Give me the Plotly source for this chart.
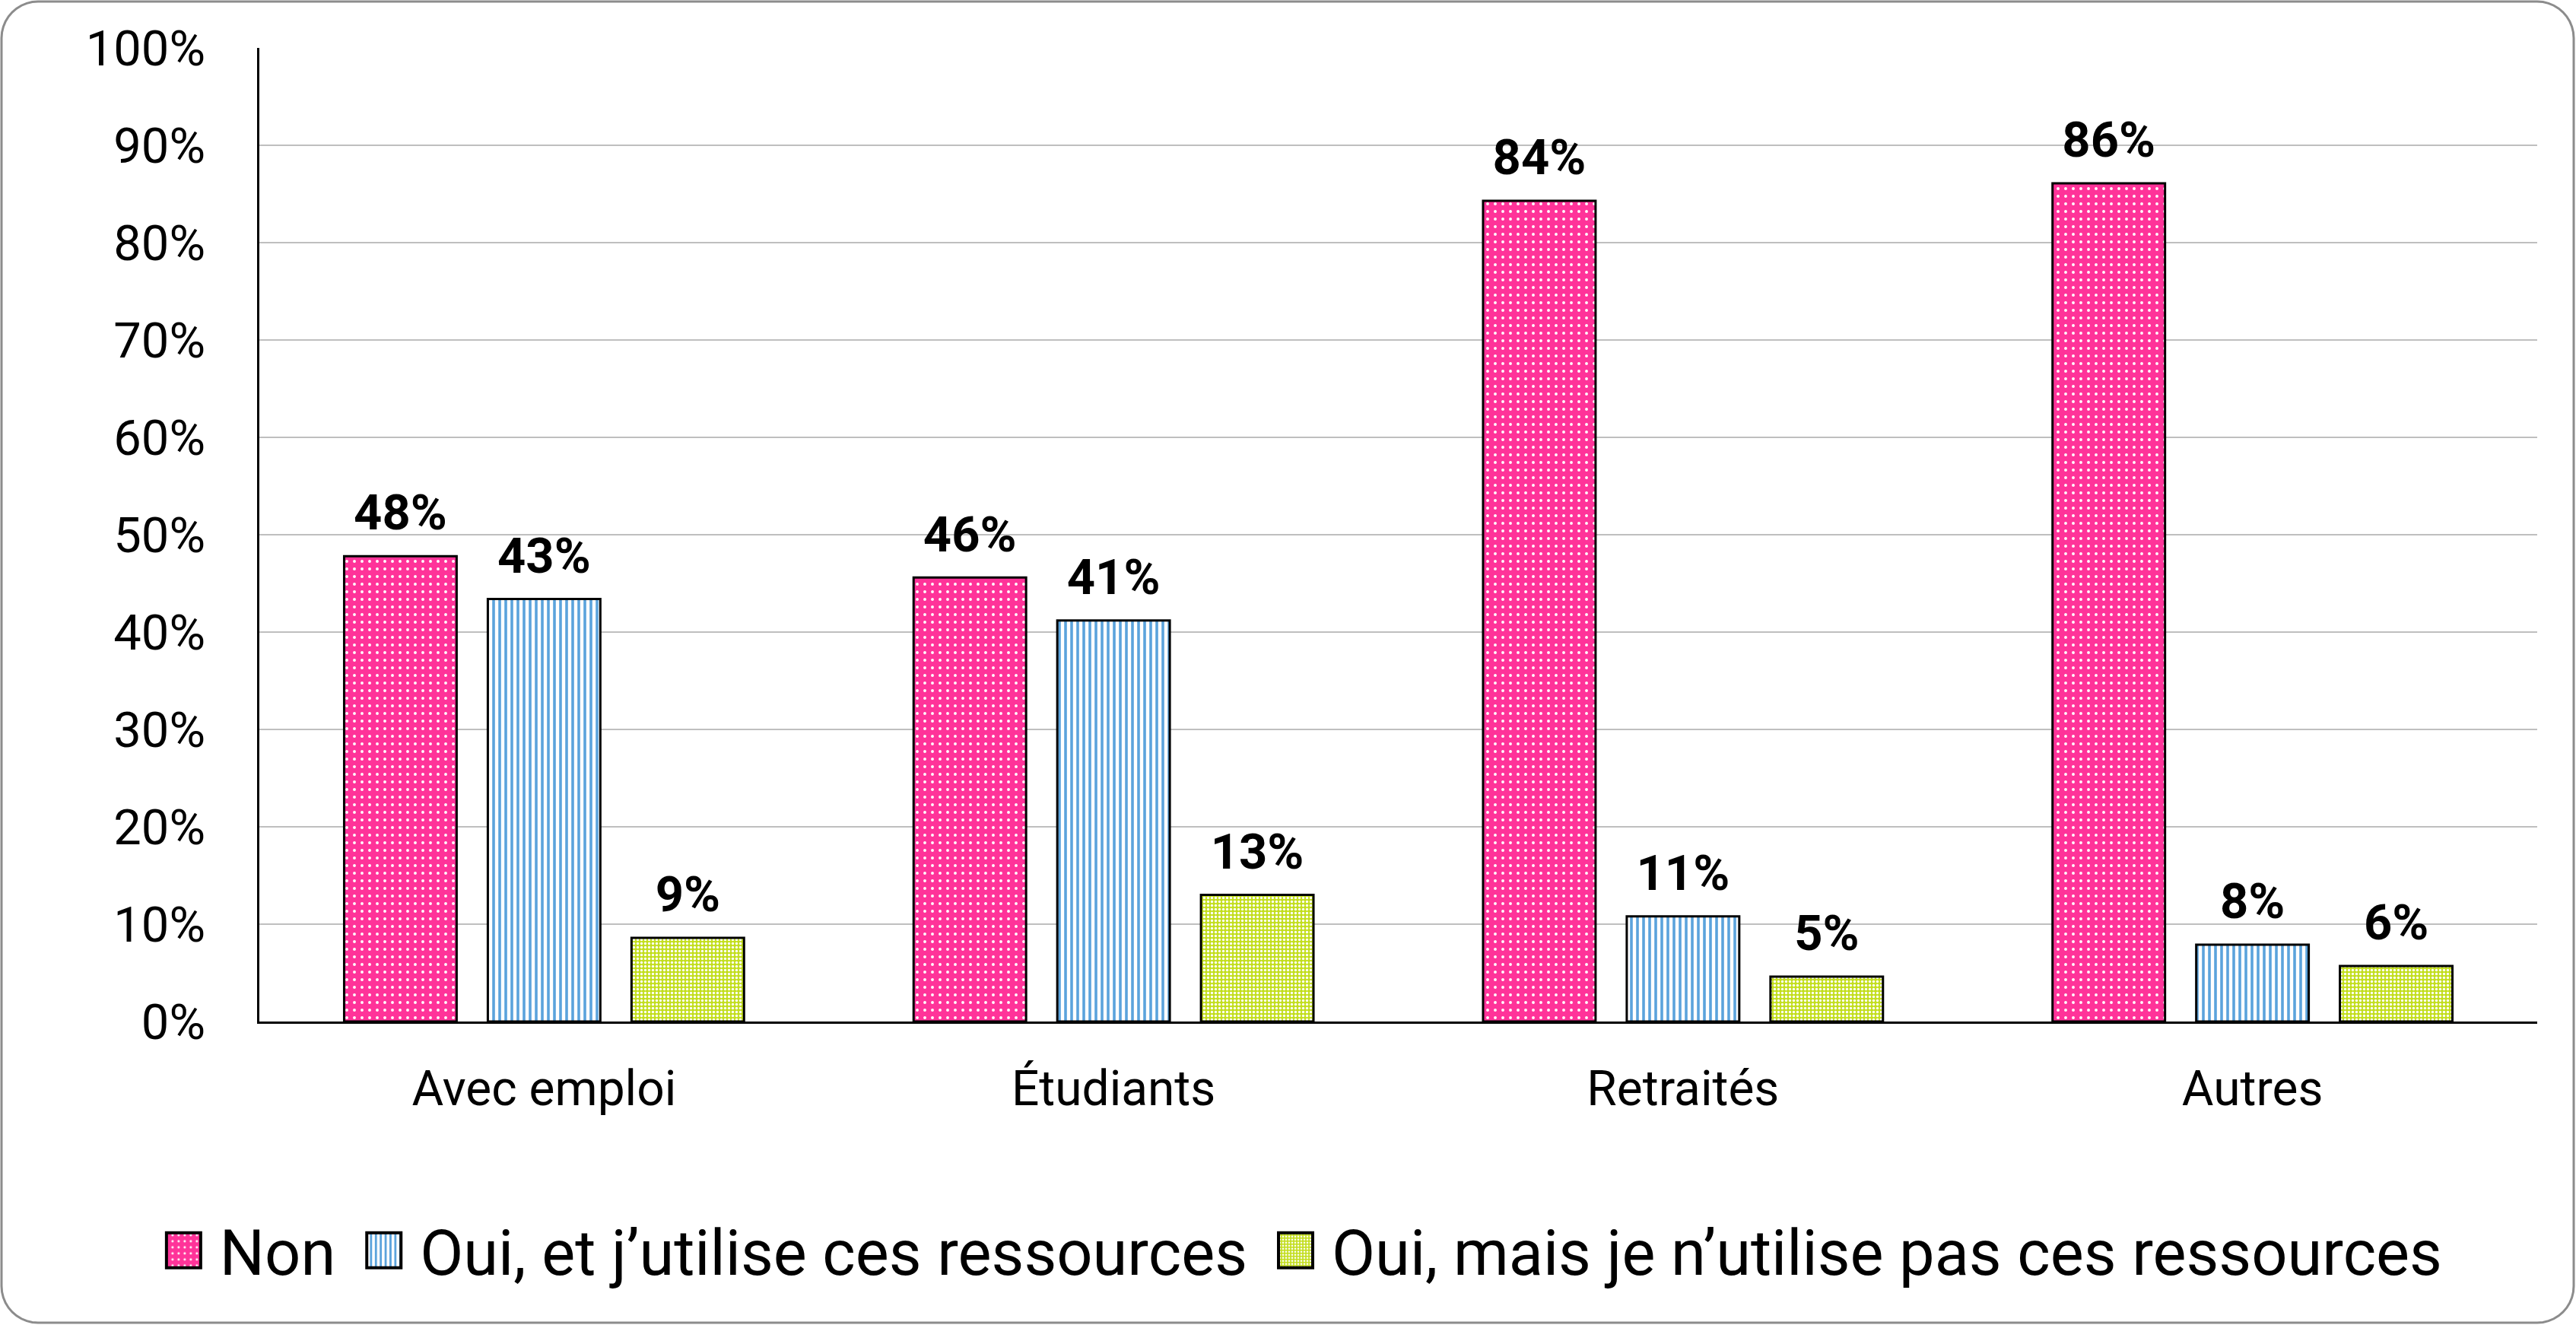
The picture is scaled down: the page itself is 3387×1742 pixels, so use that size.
import math
import plotly.graph_objects as go

categories = ["Avec emploi", "Étudiants", "Retraités", "Autres"]
series_names = ["Non", "Oui, et j’utilise ces ressources", "Oui, mais je n’utilise pas ces ressources"]
non = [0.478, 0.456, 0.843, 0.861]
oui_utilise = [0.434, 0.412, 0.108, 0.079]
oui_pas = [0.086, 0.130, 0.046, 0.057]
y_ticks = [0, 0.1, 0.2, 0.3, 0.4, 0.5, 0.6, 0.7, 0.8, 0.9, 1.0]
y_labels = ["0%", "10%", "20%", "30%", "40%", "50%", "60%", "70%", "80%", "90%", "100%"]

W, H = 3387, 1742
L, R, T, B = 341, 51, 63, 399
GAP = 0.243

styles = [
    dict(shape=".", fgcolor="white", bgcolor="#FF3399", size=10, solidity=0.12),
    dict(shape="|", fgcolor="#5BA3DC", bgcolor="white", size=8, solidity=0.45),
    dict(shape=".", fgcolor="white", bgcolor="#C3DE1E", size=5, solidity=0.35),
]

fig = go.Figure()
for name, vals, pat in zip(series_names, [non, oui_utilise, oui_pas], styles):
    fig.add_trace(go.Bar(
        x=categories, y=vals, name=name,
        marker=dict(color=pat["bgcolor"], line=dict(color="black", width=3),
                    pattern=dict(shape=pat["shape"], fgcolor=pat["fgcolor"], bgcolor=pat["bgcolor"],
                                 size=pat["size"], solidity=pat["solidity"], fillmode="replace")),
    ))

# value labels: grouped scatter text so they sit over their bars with a bit of room
for name, vals in zip(series_names, [non, oui_utilise, oui_pas]):
    fig.add_trace(go.Scatter(
        x=categories, y=vals, mode="markers+text", showlegend=False, hoverinfo="skip",
        marker=dict(size=28, opacity=0), texttemplate="<b>%{y:.0%}</b>", textposition="top center",
        textfont=dict(family="Roboto", size=65, color="black"), cliponaxis=False,
    ))

# rounded border round the whole picture, in paper coordinates
def px2paper(px, py):
    return (px - L) / (W - L - R), (H - B - py) / (H - T - B)

def rounded_rect(x0, y0, x1, y1, r):
    pts = []
    corners = [(x1 - r, y0 + r, -90), (x1 - r, y1 - r, 0), (x0 + r, y1 - r, 90), (x0 + r, y0 + r, 180)]
    for cx, cy, a0 in corners:
        for k in range(0, 11):
            a = math.radians(a0 + 9 * k)
            pts.append(px2paper(cx + r * math.cos(a), cy + r * math.sin(a)))
    return "M " + " L ".join(f"{x:.5f},{y:.5f}" for x, y in pts) + " Z"

fig.add_shape(type="path", xref="paper", yref="paper", path=rounded_rect(2, 2, W - 3, H - 3, 48),
              line=dict(color="#8C8C8C", width=3), layer="below")

fig.update_layout(
    width=W, height=H,
    margin=dict(l=L, r=R, t=T, b=B),
    paper_bgcolor="white", plot_bgcolor="white",
    barmode="group", bargap=GAP, bargroupgap=0.217,
    scattermode="group", scattergap=GAP,
    font=dict(family="Roboto", color="black", size=65),
    legend=dict(orientation="h", x=-0.0528, xanchor="left", y=-0.235, yanchor="middle",
                font=dict(size=83, family="Roboto"), itemwidth=96),
    xaxis=dict(showline=True, linecolor="black", linewidth=3, ticks="",
               tickfont=dict(size=64), ticklabelstandoff=30),
    yaxis=dict(range=[0, 1], tickvals=y_ticks, ticktext=y_labels, showline=True, linecolor="black",
               linewidth=3, showgrid=True, gridcolor="#BFBFBF", gridwidth=2, zeroline=False,
               tickfont=dict(size=65), ticklabelstandoff=55),
)

# no page margin, and bigger square legend swatches placed just left of their text
post = """
document.body.style.margin = '0';
var gd = document.getElementById('{plot_id}');
function fixLegend() {
    gd.querySelectorAll('g.legend g.traces').forEach(function(t) {
        var txt = t.querySelector('text.legendtext');
        var p = t.querySelector('g.legendpoints path');
        if (!txt || !p) return;
        var tx = parseFloat(txt.getAttribute('x'));
        p.removeAttribute('transform');
        p.setAttribute('d', 'M' + (tx - 25) + ',23H' + (tx - 70) + 'V-23H' + (tx - 25) + 'Z');
        p.style.strokeWidth = '4px';
    });
}
fixLegend();
gd.on('plotly_afterplot', fixLegend);
"""
fig.write_html("out.html", post_script=post, config={"displayModeBar": False})
